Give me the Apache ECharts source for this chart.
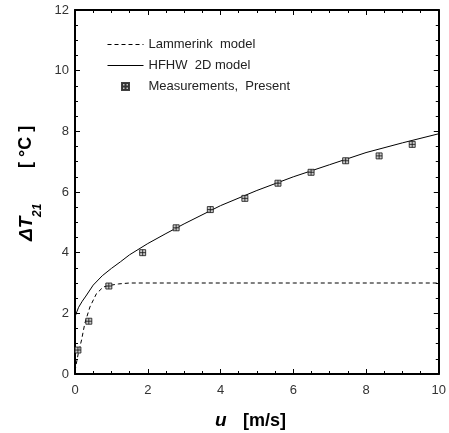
<!DOCTYPE html>
<html>
<head>
<meta charset="utf-8">
<script src="https://cdn.jsdelivr.net/npm/echarts@6/dist/echarts.min.js"></script>
<style>
  html, body { margin: 0; padding: 0; background: #fff; }
  #chart { width: 449px; height: 433px; }
</style>
</head>
<body>
<div id="chart"></div>
<script>
// values
var hfhwU    = [0, 0.05, 0.1, 0.2, 0.3, 0.5, 0.75, 1, 1.25, 1.5, 2, 2.5, 3, 4, 5, 6, 7, 8, 9, 10];
var hfhwT    = [1.88, 2.05, 2.2, 2.4, 2.57, 2.93, 3.24, 3.48, 3.7, 3.93, 4.3, 4.63, 4.95, 5.55, 6.05, 6.5, 6.9, 7.3, 7.62, 7.92];
var lamU     = [0, 0.03, 0.09, 0.18, 0.27, 0.41, 0.59, 0.78, 1, 1.2, 1.5, 3, 6, 10];
var lamT     = [0.1, 0.3, 0.68, 1.12, 1.67, 2.21, 2.65, 2.87, 2.93, 2.97, 3.0, 3.0, 3.0, 3.0];
var measU    = [0.08, 0.38, 0.93, 1.86, 2.78, 3.72, 4.67, 5.58, 6.49, 7.44, 8.36, 9.27];
var measT    = [0.79, 1.74, 2.9, 4.0, 4.82, 5.42, 5.79, 6.29, 6.65, 7.03, 7.19, 7.57];

function pairs(xs, ys) {
  var out = [];
  for (var i = 0; i < xs.length; i++) out.push([xs[i], ys[i]]);
  return out;
}

var chart = echarts.init(document.getElementById('chart'));
var font = '"Liberation Sans", Arial, sans-serif';
var markerPath = 'path://M0,0H8V8H0ZM4,0V8M0,4H8';

var tickStyle = {
  axisLine: { show: true, onZero: false, lineStyle: { color: '#000', width: 2 } },
  axisTick: { show: true, inside: true, length: 5, lineStyle: { color: '#000', width: 1 } },
  minorTick: { show: true, splitNumber: 4, length: 3, lineStyle: { color: '#000', width: 1 } },
  splitLine: { show: false },
  min: 0
};

var option = {
  animation: false,
  grid: { left: 75, right: 9, top: 10, bottom: 59 },
  xAxis: [
    Object.assign({}, tickStyle, {
      type: 'value', max: 10, interval: 2, position: 'bottom',
      axisLabel: { color: '#333', fontFamily: font, fontSize: 13, margin: 10 }
    }),
    Object.assign({}, tickStyle, {
      type: 'value', max: 10, interval: 2, position: 'top',
      axisLabel: { show: false }
    })
  ],
  yAxis: [
    Object.assign({}, tickStyle, {
      type: 'value', max: 12, interval: 2, position: 'left',
      axisLabel: { color: '#333', fontFamily: font, fontSize: 13, margin: 6 }
    }),
    Object.assign({}, tickStyle, {
      type: 'value', max: 12, interval: 2, position: 'right',
      axisLabel: { show: false }
    })
  ],
  legend: {
    left: 102, top: 33, orient: 'vertical', itemGap: 8,
    itemWidth: 36, itemHeight: 7, padding: 5,
    textStyle: { fontFamily: font, fontSize: 13, color: '#222' },
    data: [
      { name: 'Lammerink  model', itemStyle: { opacity: 0 }, lineStyle: { width: 1 } },
      { name: 'HFHW  2D model', itemStyle: { opacity: 0 }, lineStyle: { width: 1 } },
      { name: 'Measurements,  Present' }
    ]
  },
  series: [
    {
      name: 'Lammerink  model', type: 'line',
      showSymbol: false, symbol: 'none',
      lineStyle: { color: '#000', width: 1, type: [4, 3] },
      itemStyle: { color: '#000' },
      data: pairs(lamU, lamT)
    },
    {
      name: 'HFHW  2D model', type: 'line',
      showSymbol: false, symbol: 'none',
      lineStyle: { color: '#000', width: 1 },
      itemStyle: { color: '#000' },
      data: pairs(hfhwU, hfhwT)
    },
    {
      name: 'Measurements,  Present', type: 'scatter',
      symbol: markerPath, symbolSize: 6,
      itemStyle: { color: '#bbb', borderColor: '#111', borderWidth: 1 },
      data: pairs(measU, measT), z: 5
    }
  ],
  graphic: [
    {
      type: 'text', x: 215, y: 421,
      style: { text: 'u', fontFamily: font, fontSize: 19, fontWeight: 'bold', fontStyle: 'italic',
               fill: '#000', verticalAlign: 'middle', align: 'left' }
    },
    {
      type: 'text', x: 243, y: 421,
      style: { text: '[m/s]', fontFamily: font, fontSize: 18, fontWeight: 'bold',
               fill: '#000', verticalAlign: 'middle', align: 'left' }
    },
    {
      type: 'text', x: 27, y: 241, rotation: Math.PI / 2,
      style: { text: 'ΔT', fontFamily: font, fontSize: 19, fontWeight: 'bold', fontStyle: 'italic',
               fill: '#000', verticalAlign: 'middle', align: 'left' }
    },
    {
      type: 'text', x: 38, y: 217, rotation: Math.PI / 2,
      style: { text: '21', fontFamily: font, fontSize: 12, fontWeight: 'bold', fontStyle: 'italic',
               fill: '#000', verticalAlign: 'middle', align: 'left' }
    },
    {
      type: 'text', x: 26, y: 168, rotation: Math.PI / 2,
      style: { text: '[ °C ]', fontFamily: font, fontSize: 18, fontWeight: 'bold',
               fill: '#000', verticalAlign: 'middle', align: 'left' }
    }
  ]
};

chart.setOption(option);
</script>
</body>
</html>
